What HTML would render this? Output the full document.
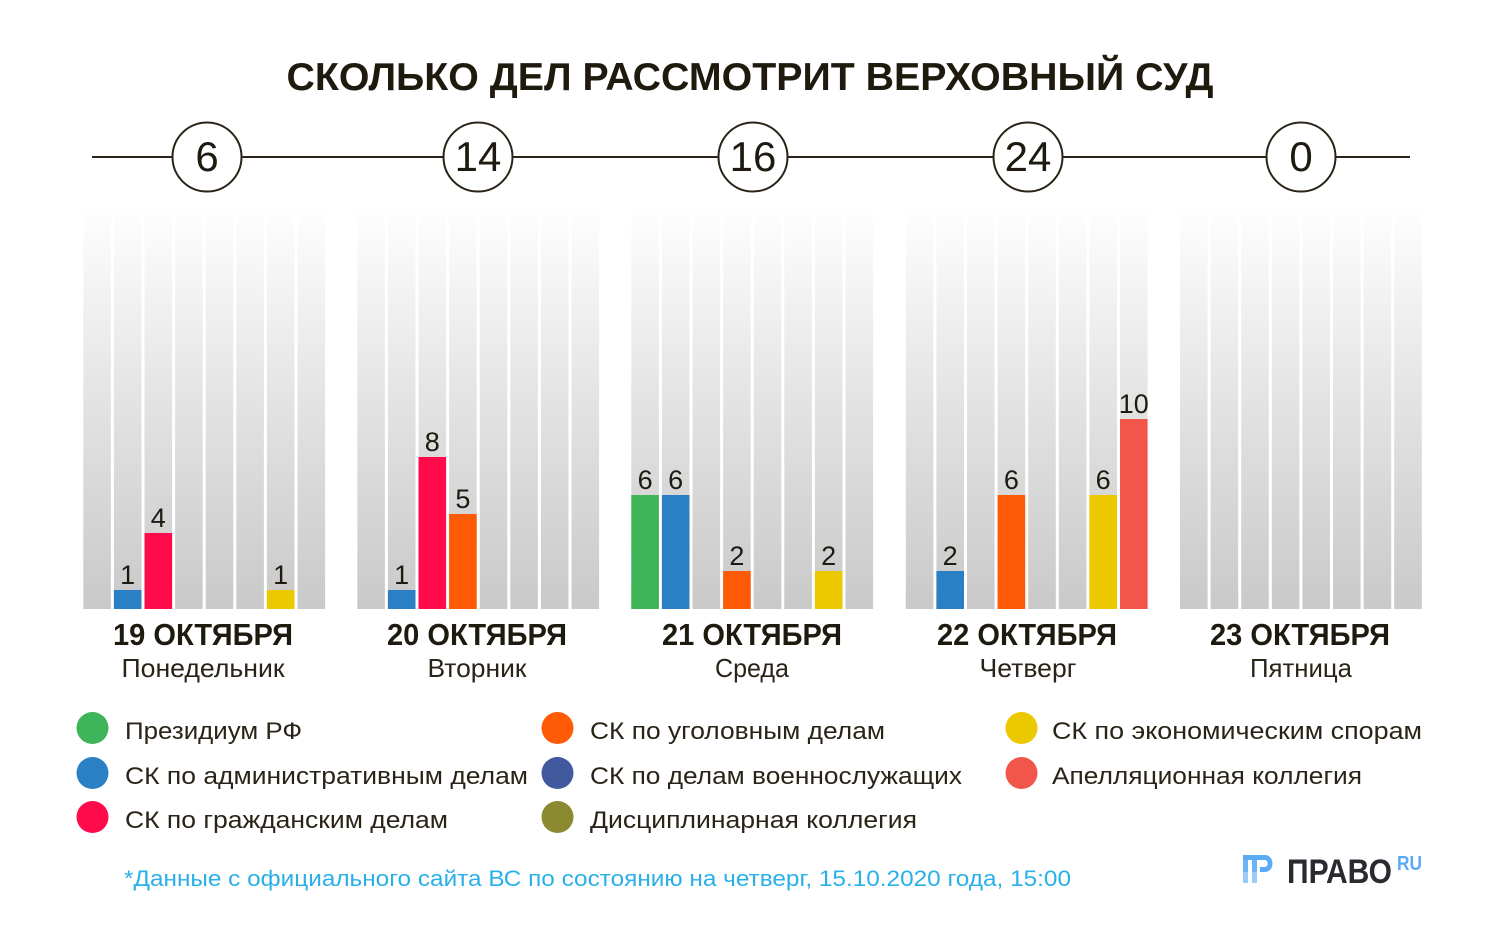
<!DOCTYPE html>
<html>
<head>
<meta charset="utf-8">
<style>
  html,body{margin:0;padding:0;background:#fff;}
  svg{display:block;}
  text{font-family:"Liberation Sans","Noto Sans CJK SC",sans-serif;}
</style>
</head>
<body>
<svg width="1500" height="938" viewBox="0 0 1500 938" xmlns="http://www.w3.org/2000/svg">
  <defs>
    <linearGradient id="g" x1="0" y1="0" x2="0" y2="1">
      <stop offset="0" stop-color="#fefefe"/>
      <stop offset="0.5" stop-color="#e2e2e2"/>
      <stop offset="1" stop-color="#c9c9c9"/>
    </linearGradient>
  </defs>
  <rect width="1500" height="938" fill="#fff"/>

  <!-- Title -->
  <text x="750" y="90" text-anchor="middle" font-size="39" font-weight="bold" fill="#1f1a0e" textLength="927" lengthAdjust="spacingAndGlyphs">СКОЛЬКО ДЕЛ РАССМОТРИТ ВЕРХОВНЫЙ СУД</text>

  <!-- Timeline -->
  <line x1="92" y1="157" x2="1410" y2="157" stroke="#2a2418" stroke-width="2"/>
  <g fill="#fff" stroke="#2a2418" stroke-width="2">
    <circle cx="207" cy="157" r="34.5"/>
    <circle cx="478" cy="157" r="34.5"/>
    <circle cx="753" cy="157" r="34.5"/>
    <circle cx="1028" cy="157" r="34.5"/>
    <circle cx="1301" cy="157" r="34.5"/>
  </g>
  <g font-size="42" fill="#1e1a10" text-anchor="middle">
    <text x="207" y="171">6</text>
    <text x="478" y="171">14</text>
    <text x="753" y="171">16</text>
    <text x="1028" y="171">24</text>
    <text x="1301" y="171">0</text>
  </g>

  <!-- Background columns -->
  <g fill="url(#g)">
    <!-- group 1 -->
    <rect x="83.3" y="210" width="27.6" height="399"/>
    <rect x="113.9" y="210" width="27.6" height="399"/>
    <rect x="144.5" y="210" width="27.6" height="399"/>
    <rect x="175.1" y="210" width="27.6" height="399"/>
    <rect x="205.7" y="210" width="27.6" height="399"/>
    <rect x="236.3" y="210" width="27.6" height="399"/>
    <rect x="266.9" y="210" width="27.6" height="399"/>
    <rect x="297.5" y="210" width="27.6" height="399"/>
    <!-- group 2 -->
    <rect x="357.3" y="210" width="27.6" height="399"/>
    <rect x="387.9" y="210" width="27.6" height="399"/>
    <rect x="418.5" y="210" width="27.6" height="399"/>
    <rect x="449.1" y="210" width="27.6" height="399"/>
    <rect x="479.7" y="210" width="27.6" height="399"/>
    <rect x="510.3" y="210" width="27.6" height="399"/>
    <rect x="540.9" y="210" width="27.6" height="399"/>
    <rect x="571.5" y="210" width="27.6" height="399"/>
    <!-- group 3 -->
    <rect x="631.3" y="210" width="27.6" height="399"/>
    <rect x="661.9" y="210" width="27.6" height="399"/>
    <rect x="692.5" y="210" width="27.6" height="399"/>
    <rect x="723.1" y="210" width="27.6" height="399"/>
    <rect x="753.7" y="210" width="27.6" height="399"/>
    <rect x="784.3" y="210" width="27.6" height="399"/>
    <rect x="814.9" y="210" width="27.6" height="399"/>
    <rect x="845.5" y="210" width="27.6" height="399"/>
    <!-- group 4 -->
    <rect x="905.8" y="210" width="27.6" height="399"/>
    <rect x="936.4" y="210" width="27.6" height="399"/>
    <rect x="967.0" y="210" width="27.6" height="399"/>
    <rect x="997.6" y="210" width="27.6" height="399"/>
    <rect x="1028.2" y="210" width="27.6" height="399"/>
    <rect x="1058.8" y="210" width="27.6" height="399"/>
    <rect x="1089.4" y="210" width="27.6" height="399"/>
    <rect x="1120.0" y="210" width="27.6" height="399"/>
    <!-- group 5 -->
    <rect x="1180.0" y="210" width="27.6" height="399"/>
    <rect x="1210.6" y="210" width="27.6" height="399"/>
    <rect x="1241.2" y="210" width="27.6" height="399"/>
    <rect x="1271.8" y="210" width="27.6" height="399"/>
    <rect x="1302.4" y="210" width="27.6" height="399"/>
    <rect x="1333.0" y="210" width="27.6" height="399"/>
    <rect x="1363.6" y="210" width="27.6" height="399"/>
    <rect x="1394.2" y="210" width="27.6" height="399"/>
  </g>

  <!-- Bars (unit = 19px, baseline y=609) -->
  <!-- group 1 -->
  <rect x="113.9" y="590" width="27.6" height="19" fill="#2b7fc4"/>
  <rect x="144.5" y="533" width="27.6" height="76" fill="#ff0a4a"/>
  <rect x="266.9" y="590" width="27.6" height="19" fill="#ecc800"/>
  <!-- group 2 -->
  <rect x="387.9" y="590" width="27.6" height="19" fill="#2b7fc4"/>
  <rect x="418.5" y="457" width="27.6" height="152" fill="#ff0a4a"/>
  <rect x="449.1" y="514" width="27.6" height="95" fill="#ff5a05"/>
  <!-- group 3 -->
  <rect x="631.3" y="495" width="27.6" height="114" fill="#3fb55a"/>
  <rect x="661.9" y="495" width="27.6" height="114" fill="#2b7fc4"/>
  <rect x="723.1" y="571" width="27.6" height="38" fill="#ff5a05"/>
  <rect x="814.9" y="571" width="27.6" height="38" fill="#ecc800"/>
  <!-- group 4 -->
  <rect x="936.4" y="571" width="27.6" height="38" fill="#2b7fc4"/>
  <rect x="997.6" y="495" width="27.6" height="114" fill="#ff5a05"/>
  <rect x="1089.4" y="495" width="27.6" height="114" fill="#ecc800"/>
  <rect x="1120.0" y="419" width="27.6" height="190" fill="#f2564b"/>

  <!-- Bar labels -->
  <g font-size="27" fill="#1e1a10" text-anchor="middle">
    <text x="127.7" y="584">1</text>
    <text x="158.3" y="527">4</text>
    <text x="280.7" y="584">1</text>
    <text x="401.7" y="584">1</text>
    <text x="432.3" y="451">8</text>
    <text x="462.9" y="508">5</text>
    <text x="645.1" y="489">6</text>
    <text x="675.7" y="489">6</text>
    <text x="736.9" y="565">2</text>
    <text x="828.7" y="565">2</text>
    <text x="950.2" y="565">2</text>
    <text x="1011.4" y="489">6</text>
    <text x="1103.2" y="489">6</text>
    <text x="1133.8" y="413">10</text>
  </g>

  <!-- Day labels -->
  <g font-size="31" font-weight="bold" fill="#1e1a10" text-anchor="middle">
    <text x="203" y="645" textLength="180" lengthAdjust="spacingAndGlyphs">19 ОКТЯБРЯ</text>
    <text x="477" y="645" textLength="180" lengthAdjust="spacingAndGlyphs">20 ОКТЯБРЯ</text>
    <text x="752" y="645" textLength="180" lengthAdjust="spacingAndGlyphs">21 ОКТЯБРЯ</text>
    <text x="1027" y="645" textLength="180" lengthAdjust="spacingAndGlyphs">22 ОКТЯБРЯ</text>
    <text x="1300" y="645" textLength="180" lengthAdjust="spacingAndGlyphs">23 ОКТЯБРЯ</text>
  </g>
  <g font-size="26" fill="#2a2418" text-anchor="middle">
    <text x="203" y="677" textLength="163" lengthAdjust="spacingAndGlyphs">Понедельник</text>
    <text x="477" y="677" textLength="99" lengthAdjust="spacingAndGlyphs">Вторник</text>
    <text x="752" y="677" textLength="74" lengthAdjust="spacingAndGlyphs">Среда</text>
    <text x="1028" y="677" textLength="97" lengthAdjust="spacingAndGlyphs">Четверг</text>
    <text x="1301" y="677" textLength="102" lengthAdjust="spacingAndGlyphs">Пятница</text>
  </g>

  <!-- Legend -->
  <circle cx="92.5" cy="728" r="16" fill="#3fb55a"/>
  <circle cx="92.5" cy="773" r="16" fill="#2b7fc4"/>
  <circle cx="92.5" cy="817" r="16" fill="#ff0a4a"/>
  <circle cx="557.5" cy="728" r="16" fill="#ff5a05"/>
  <circle cx="557.5" cy="773" r="16" fill="#42589f"/>
  <circle cx="557.5" cy="817" r="16" fill="#8b8a30"/>
  <circle cx="1021.5" cy="728" r="16" fill="#ecc800"/>
  <circle cx="1021.5" cy="773" r="16" fill="#f2564b"/>
  <g font-size="24" fill="#2a2418">
    <text x="125" y="739" textLength="177" lengthAdjust="spacingAndGlyphs">Президиум РФ</text>
    <text x="125" y="784" textLength="403" lengthAdjust="spacingAndGlyphs">СК по административным делам</text>
    <text x="125" y="828" textLength="323" lengthAdjust="spacingAndGlyphs">СК по гражданским делам</text>
    <text x="590" y="739" textLength="295" lengthAdjust="spacingAndGlyphs">СК по уголовным делам</text>
    <text x="590" y="784" textLength="372" lengthAdjust="spacingAndGlyphs">СК по делам военнослужащих</text>
    <text x="590" y="828" textLength="327" lengthAdjust="spacingAndGlyphs">Дисциплинарная коллегия</text>
    <text x="1052" y="739" textLength="370" lengthAdjust="spacingAndGlyphs">СК по экономическим спорам</text>
    <text x="1052" y="784" textLength="310" lengthAdjust="spacingAndGlyphs">Апелляционная коллегия</text>
  </g>

  <!-- Footnote -->
  <text x="124" y="886" font-size="22" fill="#29b0e8" textLength="947" lengthAdjust="spacingAndGlyphs">*Данные с официального сайта ВС по состоянию на четверг, 15.10.2020 года, 15:00</text>

  <!-- Logo -->
  <g>
    <rect x="1243" y="855" width="20" height="5" fill="#5aaaf5"/>
    <rect x="1243" y="860" width="5" height="12" fill="#6db4f7"/>
    <rect x="1243" y="872" width="5" height="11" fill="#9ccbfa"/>
    <rect x="1252" y="860" width="5" height="12" fill="#6db4f7"/>
    <rect x="1252" y="872" width="5" height="11" fill="#9ccbfa"/>
    <path d="M1260 855 h5 a7.5 8.5 0 0 1 0 17 h-5 v-5 h5 a2.7 3.5 0 0 0 0 -7 h-5 z" fill="#5aaaf5"/>
  </g>
  <text x="1287" y="883" font-size="34" font-weight="bold" fill="#2a2a30" textLength="105" lengthAdjust="spacingAndGlyphs">ПРАВО</text>
  <text x="1397" y="870" font-size="20" font-weight="bold" fill="#5aaaf5" textLength="25" lengthAdjust="spacingAndGlyphs">RU</text>
</svg>
</body>
</html>
